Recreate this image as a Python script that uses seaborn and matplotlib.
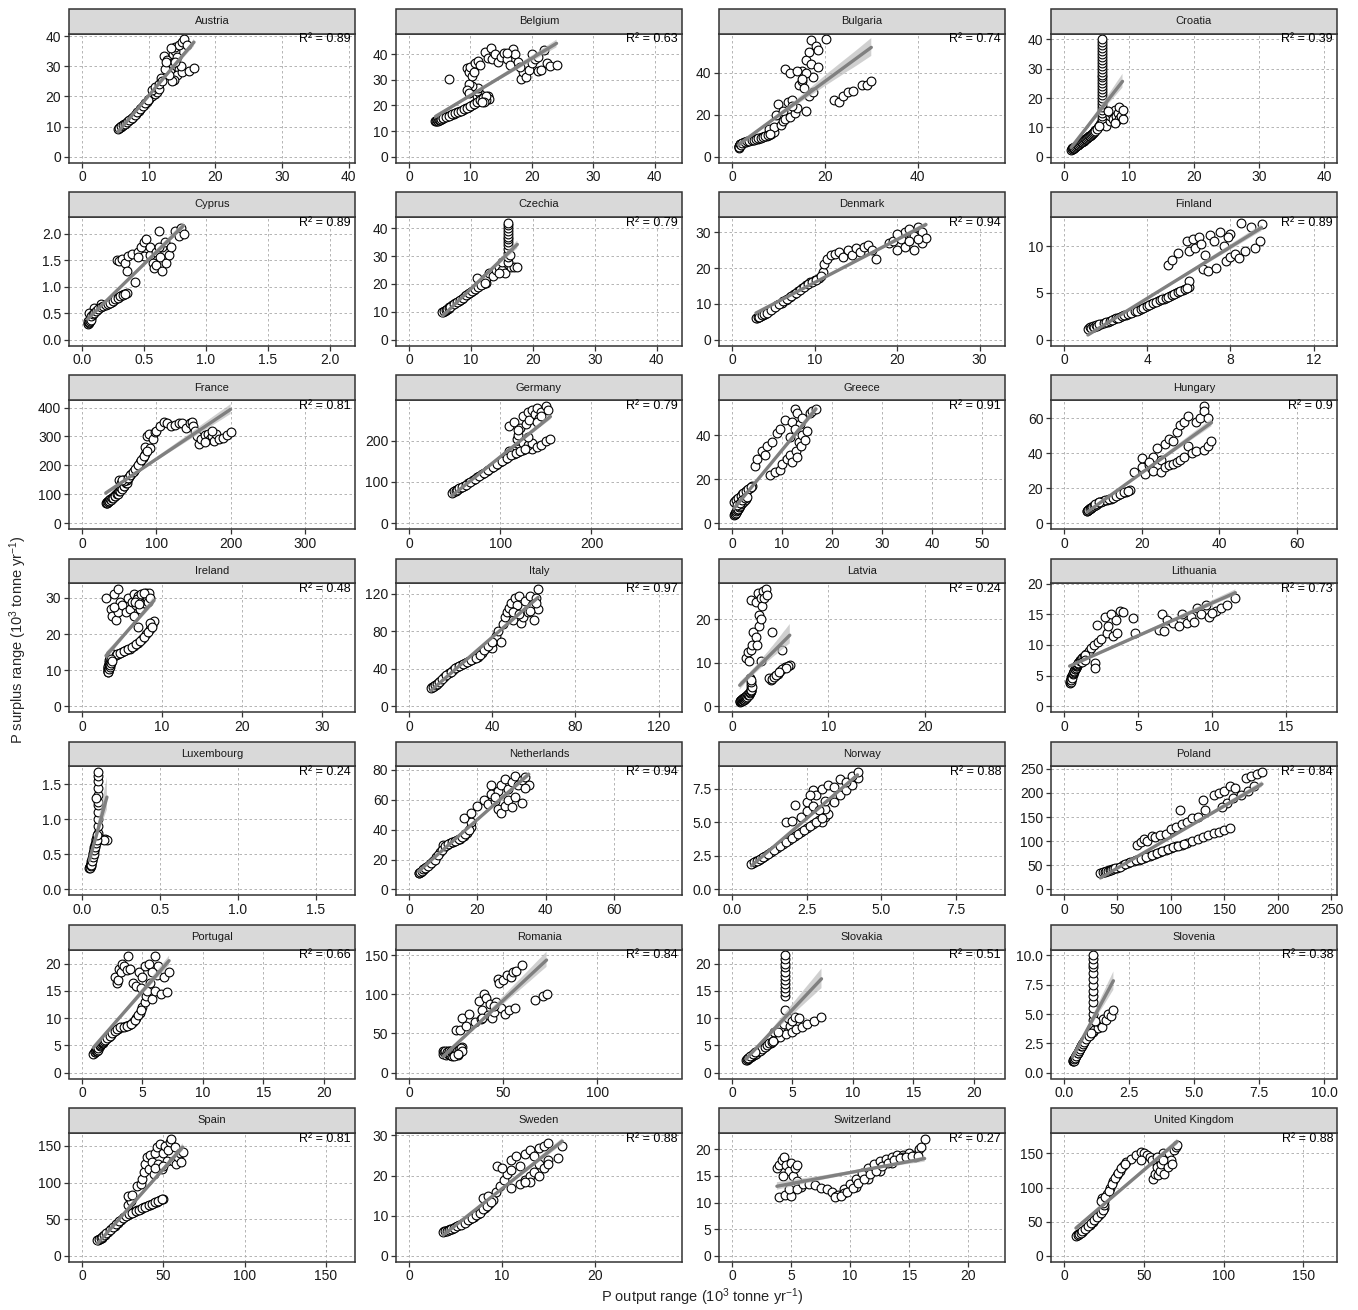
# P surplus vs P output, one panel per country (facet style, free equal axes)
import numpy as np
import pandas as pd
import matplotlib
matplotlib.use('Agg')
import matplotlib.pyplot as plt
from matplotlib.patches import Rectangle
from matplotlib.collections import PolyCollection
import seaborn as sns

countries = ['Austria', 'Belgium', 'Bulgaria', 'Croatia',
             'Cyprus', 'Czechia', 'Denmark', 'Finland',
             'France', 'Germany', 'Greece', 'Hungary',
             'Ireland', 'Italy', 'Latvia', 'Lithuania',
             'Luxembourg', 'Netherlands', 'Norway', 'Poland',
             'Portugal', 'Romania', 'Slovakia', 'Slovenia',
             'Spain', 'Sweden', 'Switzerland', 'United Kingdom']
r2_labels = ['0.89', '0.63', '0.74', '0.39', '0.89', '0.79', '0.94', '0.89',
             '0.81', '0.79', '0.91', '0.9', '0.48', '0.97', '0.24', '0.73',
             '0.24', '0.94', '0.88', '0.84', '0.66', '0.84', '0.51', '0.38',
             '0.81', '0.88', '0.27', '0.88']
x_steps = [10, 10, 20, 10, 0.5, 10, 10, 4, 100, 100, 10, 20, 10, 40, 10, 5,
           0.5, 20, 2.5, 50, 5, 50, 5, 2.5, 50, 10, 5, 50]
y_steps = [10, 10, 20, 10, 0.5, 10, 10, 5, 100, 100, 20, 20, 10, 40, 10, 5,
           0.5, 20, 2.5, 50, 5, 50, 5, 2.5, 50, 10, 5, 50]

# (P output, P surplus), 10^3 tonne/yr
austria = [(5.5, 9.5), (5.7, 9.8), (5.8, 10), (6.0, 10.3), (6.1, 10.5), (6.3, 10.8), (6.5, 11), (6.9, 11.8),
           (7.3, 12.5), (7.7, 13.3), (8.1, 14.2), (8.5, 15.2), (8.9, 16.2), (9.3, 17.2), (9.7, 18.3),
           (10.1, 19.2), (10.5, 20), (10.9, 20.8), (11.3, 21.5), (10.5, 22), (11, 23), (11.5, 22.5),
           (11.5, 24), (11.8, 26), (12, 25), (12.3, 33.5), (12.8, 32), (13, 30), (13.2, 28), (13.5, 31),
           (13.7, 34), (14, 35), (14, 36.5), (14.3, 33), (14.5, 37), (15, 38), (15.3, 39), (15.8, 37),
           (14.6, 29), (14.2, 27), (13.8, 25.5), (13.5, 25), (15, 28), (16, 28.5), (16.8, 29.5),
           (13, 27), (12.5, 29), (12.6, 31.5), (14.8, 30), (14, 31.5), (13.3, 36),
           (5.4, 9.2), (5.6, 9.6), (5.9, 10.1), (6.2, 10.6), (6.4, 10.9), (6.7, 11.4), (7.1, 12.1),
           (7.5, 12.9), (7.9, 13.7), (8.3, 14.7), (8.7, 15.7), (9.1, 16.7), (9.5, 17.7), (9.9, 18.7)]
belgium = [(4.3, 13.8), (4.6, 14.1), (4.8, 14.3), (5.1, 14.6), (5.3, 14.8), (5.8, 15.3), (6.3, 15.8),
           (6.8, 16.3), (7.3, 16.8), (7.8, 17.3), (8.3, 17.8), (8.8, 18.3), (9.3, 18.9), (9.8, 19.5),
           (10.3, 20.2), (10.8, 21), (11.3, 21.8), (11.8, 22.5), (12.3, 23.2), (12.8, 23.5), (13, 22.5),
           (12.5, 22), (11, 23.5), (11.5, 24.5), (11, 25.5), (11.3, 27), (10.2, 27.5), (9.8, 28.5),
           (9.5, 26), (9.8, 25), (6.5, 30.5), (9.5, 34.5), (9.8, 33), (10, 35), (10.3, 31.5), (10.5, 33),
           (10.8, 36.5), (11.2, 37.5), (11.5, 36), (12.3, 40.8), (13.3, 42.3), (12.8, 38.5), (13.5, 38),
           (14, 40), (14.5, 37), (15, 39), (15.5, 40.5), (16, 38), (16.5, 36), (17, 42), (17.3, 40),
           (17.8, 37), (18.3, 30.5), (18.6, 33), (19, 31), (19.5, 34), (20, 36.5), (20.5, 38), (21, 33.5),
           (21.5, 34), (22, 41.5), (22.5, 36.5), (23, 35.5), (24, 35.7), (20, 40), (21, 39), (18, 35),
           (16, 40.5),
           (4.4, 13.9), (4.5, 14.2), (4.7, 14.0), (4.9, 14.5), (5, 14.3), (5.2, 14.9), (5.5, 15.0),
           (5.6, 15.2), (6, 15.5), (6.5, 16), (7, 16.5), (7.5, 17), (8, 17.5), (8.5, 18), (9, 18.6),
           (9.5, 19.2), (10, 19.8), (10.5, 20.6), (11, 21.4), (11.5, 22.2), (12, 22.8), (12.6, 23.8),
           (12.2, 21.5), (11.8, 21.3)]
bulgaria = [(1.5, 4.5), (1.6, 5), (1.7, 5.5), (1.8, 5.9), (2, 6.2), (2.5, 6.8), (3, 7.2), (3.5, 7.5),
            (4, 7.8), (4.5, 8), (5, 8.3), (5.5, 8.6), (6, 9), (6.5, 9.3), (7, 9.7), (7.5, 10), (8, 10.5),
            (8.5, 11), (9, 12), (8, 13), (9, 14), (9.5, 20), (10, 25), (10.5, 15), (11, 17), (11, 22),
            (11.5, 18), (12, 26), (12.5, 19), (13, 27), (13.5, 21), (14, 23), (14.5, 34), (15, 41),
            (15, 36), (15.5, 33), (16, 46), (16, 22), (16.5, 50), (16.5, 29), (17, 55.5), (17, 44),
            (17.5, 31), (17.5, 38), (18, 53), (18.5, 51), (18.5, 43), (11.5, 42), (12.5, 40), (14, 41),
            (16, 40), (20.2, 56), (22, 27), (23, 26), (24, 29), (25, 31), (26, 31.5), (28, 34), (29, 34),
            (30, 36), (13, 24), (15, 37),
            (1.4, 4.2), (1.5, 5), (1.6, 4.6), (1.7, 6), (1.9, 5.5), (2.2, 6.5), (2.7, 7), (3.2, 7.3),
            (3.7, 7.6), (4.2, 7.9), (4.7, 8.1), (5.2, 8.4), (5.7, 8.8), (6.2, 9.1), (6.7, 9.5), (7.2, 9.8),
            (7.7, 10.2), (8.2, 10.8)]
croatia = [(1.2, 2.5), (1.35, 2.75), (1.5, 3), (1.65, 3.25), (1.8, 3.5), (2.1, 4), (2.4, 4.5), (2.7, 5),
           (3, 5.5), (3.3, 6), (3.6, 6.5), (3.9, 7), (4.2, 7.5), (4.5, 8), (4.8, 9), (5.2, 10), (5.5, 11),
           (5.8, 12), (5.8, 13), (5.8, 14), (5.8, 15), (5.8, 16), (5.8, 17), (5.8, 18), (5.8, 19),
           (5.8, 20), (5.8, 21), (5.8, 22), (5.8, 23), (5.8, 24), (5.8, 25), (5.8, 26), (5.8, 27),
           (5.8, 28), (5.8, 29), (5.8, 30), (5.8, 31), (5.8, 32), (5.8, 33), (5.8, 34), (5.8, 35),
           (5.8, 36), (5.8, 37), (5.8, 38), (5.8, 39), (5.8, 40), (6.5, 10.5), (7, 12), (7, 14),
           (7.3, 15), (7.5, 13), (7.8, 16), (8, 12), (8, 14), (8.3, 15), (8.5, 13), (8.5, 17), (8.8, 14),
           (9, 13), (9, 16), (7.8, 11.5), (6.8, 15.5),
           (1.1, 2.3), (1.2, 2.8), (1.3, 2.5), (1.4, 3), (1.45, 2.8), (1.55, 3.2), (1.6, 3), (1.7, 3.4),
           (1.9, 3.6), (2, 3.8), (2.2, 4.1), (2.3, 4.4), (2.5, 4.6), (2.6, 4.9), (2.8, 5.1), (2.9, 5.4),
           (3.1, 5.6), (3.2, 5.9), (3.4, 6.1), (3.5, 6.4), (3.7, 6.6), (3.8, 6.9), (4, 7.2), (4.1, 7.4),
           (4.3, 7.6), (4.4, 7.9), (4.6, 8.3), (4.7, 8.6), (5, 9.5), (5.4, 10.5)]
cyprus = [(0.05, 0.32), (0.055, 0.34), (0.06, 0.36), (0.065, 0.39), (0.07, 0.42), (0.08, 0.47),
          (0.09, 0.5), (0.1, 0.52), (0.12, 0.56), (0.14, 0.6), (0.16, 0.63), (0.18, 0.65), (0.2, 0.67),
          (0.22, 0.69), (0.24, 0.72), (0.26, 0.75), (0.28, 0.78), (0.3, 0.81), (0.32, 0.84), (0.34, 0.86),
          (0.36, 0.88), (0.15, 0.67), (0.1, 0.6), (0.06, 0.5), (0.28, 1.5), (0.3, 1.48), (0.32, 1.52),
          (0.35, 1.45), (0.36, 1.3), (0.37, 1.58), (0.4, 1.62), (0.43, 1.08), (0.45, 1.65), (0.48, 1.75),
          (0.5, 1.85), (0.52, 1.9), (0.5, 1.58), (0.55, 1.6), (0.55, 1.75), (0.57, 1.45), (0.58, 1.35),
          (0.6, 1.4), (0.6, 1.65), (0.62, 2.05), (0.63, 1.55), (0.65, 1.3), (0.65, 1.75), (0.67, 1.85),
          (0.68, 1.45), (0.7, 1.6), (0.72, 1.75), (0.75, 2.05), (0.78, 1.95), (0.8, 2.1), (0.82, 2.0),
          (0.62, 1.75), (0.45, 1.55),
          (0.045, 0.3), (0.05, 0.35), (0.055, 0.31), (0.06, 0.33), (0.065, 0.36), (0.07, 0.38),
          (0.075, 0.44), (0.085, 0.49), (0.095, 0.51), (0.11, 0.54), (0.13, 0.58), (0.15, 0.61),
          (0.17, 0.64), (0.19, 0.66), (0.21, 0.68), (0.23, 0.7), (0.25, 0.73), (0.27, 0.76), (0.29, 0.79),
          (0.31, 0.82), (0.33, 0.85), (0.35, 0.87)]
czechia = [(5.5, 10), (5.75, 10.4), (6, 10.8), (6.25, 11.2), (6.5, 11.6), (7, 12.4), (7.5, 13.2), (8, 14),
           (8.5, 14.8), (9, 15.6), (9.5, 16.4), (10, 17.2), (10.5, 18), (11, 18.8), (11.5, 19.5),
           (12, 20), (12.5, 20.5), (11, 22), (12.5, 22), (13, 24), (13.5, 23), (14, 25), (14.5, 26),
           (15, 25), (15.5, 24), (16, 27), (16.5, 26), (17, 26), (17.5, 26), (14.5, 24), (15, 28),
           (16, 28), (16, 29.5), (16, 31), (16, 32.5), (16, 34), (16, 35), (16, 36), (16, 37), (16, 38),
           (16, 39), (16, 40), (16, 41), (16, 42), (16.3, 30.5),
           (5.4, 9.8), (5.6, 10.2), (5.9, 10.6), (6.1, 11), (6.4, 11.4), (6.7, 11.9), (7.2, 12.7),
           (7.7, 13.5), (8.2, 14.3), (8.7, 15.1), (9.2, 15.9), (9.7, 16.7), (10.2, 17.5), (10.7, 18.3),
           (11.2, 19.1), (11.7, 19.7), (12.2, 20.2)]
denmark = [(3, 6.2), (3.25, 6.45), (3.5, 6.7), (3.75, 7), (4, 7.3), (4.5, 8), (5, 8.8), (5.5, 9.6),
           (6, 10.4), (6.5, 11.2), (7, 12), (7.5, 12.8), (8, 13.6), (8.5, 14.4), (9, 15.2), (9.5, 16),
           (10, 16.6), (10.5, 17.2), (11, 19), (11.2, 21), (11.5, 22.5), (12, 23.5), (12.5, 24),
           (13, 24.5), (13.5, 23), (14, 25), (14.5, 23.5), (15, 25.5), (15.5, 24.5), (16, 26),
           (16.5, 26.5), (17, 25), (17.5, 22.5), (19, 27), (19.5, 27.5), (20, 25), (20.5, 28), (21, 30),
           (21, 26), (21.5, 31), (22, 29), (22, 25), (22.5, 31.5), (23, 30), (23, 27), (23.5, 28.5),
           (20, 29.5), (22.5, 28), (21.5, 27.5),
           (2.9, 6), (3.1, 6.3), (3.3, 6.5), (3.6, 6.8), (3.9, 7.2), (4.2, 7.6), (4.7, 8.3), (5.2, 9.1),
           (5.7, 9.9), (6.2, 10.7), (6.7, 11.5), (7.2, 12.3), (7.7, 13.1), (8.2, 13.9), (8.7, 14.7),
           (9.2, 15.5), (9.7, 16.2), (10.2, 16.8), (10.8, 17.8)]
finland = [(1.2, 1.3), (1.35, 1.4), (1.5, 1.5), (1.65, 1.6), (1.8, 1.7), (2.1, 1.95), (2.4, 2.2),
           (2.7, 2.45), (3, 2.7), (3.3, 2.95), (3.6, 3.2), (3.9, 3.5), (4.2, 3.8), (4.5, 4.1), (4.8, 4.4),
           (5.1, 4.7), (5.4, 5), (5.7, 5.3), (6, 5.6), (6, 6.3), (5, 8), (5.2, 8.5), (5.5, 9.3),
           (5.9, 10.5), (6, 9.5), (6.2, 10.8), (6.3, 9.8), (6.5, 11), (6.6, 10.2), (6.8, 9), (6.7, 7.5),
           (6.9, 7.3), (7, 11.2), (7.2, 10.5), (7.3, 7.7), (7.5, 11.5), (7.7, 10), (7.8, 8.4), (8, 11.3),
           (8, 8.8), (8.2, 9.1), (8.5, 12.5), (8.7, 9.5), (9, 12), (9.2, 9.8), (9.5, 12.3), (9.4, 10.5),
           (8.4, 8.7), (7.9, 11),
           (1.15, 1.2), (1.25, 1.35), (1.3, 1.3), (1.4, 1.45), (1.45, 1.4), (1.55, 1.55), (1.6, 1.5),
           (1.7, 1.65), (1.9, 1.8), (2, 1.85), (2.2, 2.05), (2.3, 2.1), (2.5, 2.3), (2.6, 2.35),
           (2.8, 2.55), (2.9, 2.6), (3.1, 2.8), (3.2, 2.85), (3.4, 3.05), (3.5, 3.1), (3.7, 3.3),
           (3.8, 3.4), (4, 3.6), (4.1, 3.7), (4.3, 3.9), (4.4, 4), (4.6, 4.2), (4.7, 4.3), (4.9, 4.5),
           (5, 4.6), (5.2, 4.8), (5.3, 4.9), (5.5, 5.1), (5.6, 5.2), (5.8, 5.4), (5.9, 5.5)]
france = [(33, 70), (34, 72), (35, 75), (36, 78), (37, 80), (40, 86), (43, 92), (46, 100), (49, 108),
          (52, 118), (55, 128), (58, 138), (60, 145), (50, 150), (52, 140), (55, 150), (63, 160),
          (66, 170), (70, 182), (74, 195), (78, 210), (82, 225), (85, 240), (88, 255), (85, 265),
          (88, 300), (90, 310), (92, 260), (95, 290), (98, 315), (100, 320), (105, 335), (110, 350),
          (115, 345), (120, 335), (125, 340), (130, 345), (135, 345), (140, 330), (145, 345), (148, 350),
          (150, 335), (152, 320), (155, 300), (158, 275), (160, 290), (165, 305), (170, 310), (172, 290),
          (175, 300), (178, 285), (180, 310), (185, 290), (190, 295), (195, 305), (200, 315), (165, 280),
          (175, 320),
          (32, 68), (33, 73), (34, 70), (35, 72), (36, 75), (37, 77), (38, 82), (39, 80), (41, 88),
          (42, 86), (44, 94), (45, 92), (47, 102), (48, 100), (50, 112), (51, 110), (53, 120), (54, 118),
          (56, 130), (57, 128), (59, 140), (60, 138), (61, 150), (58, 148), (56, 145), (54, 150),
          (62, 155), (64, 165), (68, 176), (72, 188), (76, 202), (80, 218), (84, 232), (87, 248)]
germany = [(48, 76), (50, 78), (52, 80), (54, 82), (56, 85), (60, 90), (65, 97), (70, 104), (75, 112),
           (80, 119), (85, 126), (90, 133), (95, 141), (100, 148), (105, 155), (110, 162), (115, 168),
           (120, 173), (125, 178), (130, 183), (135, 180), (120, 180), (115, 175), (110, 175), (110, 235),
           (115, 245), (118, 205), (120, 215), (122, 230), (125, 260), (128, 240), (130, 270), (132, 250),
           (135, 275), (138, 265), (140, 280), (142, 255), (145, 270), (150, 285), (152, 275), (125, 195),
           (130, 190), (135, 195), (140, 185), (145, 190), (150, 200), (155, 205), (130, 210), (120, 225),
           (140, 245), (145, 260),
           (47, 74), (49, 77), (51, 79), (53, 81), (55, 84), (58, 87), (62, 93), (67, 100), (72, 108),
           (77, 115), (82, 122), (87, 129), (92, 136), (97, 144), (102, 151), (107, 158), (112, 165),
           (117, 170), (122, 175), (127, 180)]
greece = [(0.5, 4), (0.65, 4.5), (0.8, 5), (0.9, 5.5), (1, 6), (1.3, 7), (1.6, 8), (2, 9), (2.4, 10),
          (2.8, 11), (0.5, 10), (1, 11), (1.5, 12), (2, 13), (2.5, 14), (3, 15), (3.5, 16), (4, 17),
          (4.5, 26), (5, 29), (6, 33), (6.5, 31), (7, 35), (7.5, 22), (8, 37), (8.5, 23), (9, 41),
          (9.5, 24), (9.5, 43), (10, 27), (10.5, 47), (11, 29), (11.5, 31), (12, 28), (12, 46),
          (12.5, 52), (12.8, 33), (13, 50), (13.3, 37), (13.5, 45), (13.8, 35), (14, 40), (14, 48),
          (14.5, 38), (15, 42), (15.5, 50), (16, 51), (16.8, 52), (13, 30), (11.5, 39), (12.5, 43),
          (0.45, 3.8), (0.55, 4.3), (0.6, 4.1), (0.7, 4.8), (0.75, 4.6), (0.85, 5.3), (0.95, 5.8),
          (1.1, 6.3), (1.2, 6.6), (1.4, 7.3), (1.5, 7.6), (1.8, 8.5), (2.2, 9.5), (2.6, 10.5),
          (0.4, 9.5), (0.7, 10.5), (1.2, 11.5), (1.7, 12.5), (2.2, 13.5), (2.7, 14.5), (3.2, 15.5),
          (3.7, 16.5), (1, 8), (1.5, 9), (2, 10.5), (2.5, 11.5), (3, 12)]
hungary = [(6, 7), (6.25, 7.5), (6.5, 8), (6.75, 8.4), (7, 8.8), (7.5, 9.5), (8, 10.2), (8.5, 11),
           (9, 11.8), (10, 12.5), (11, 13.3), (12, 14), (13, 15), (14, 16), (15, 17), (16, 18), (17, 19),
           (18, 29), (20, 32), (20, 37), (21, 28), (22, 33), (23, 38), (23, 30), (24, 43), (25, 29),
           (25, 36), (26, 45), (26, 32), (27, 48), (27, 33), (28, 34), (29, 52), (29, 35), (30, 56),
           (30, 36), (31, 58), (31, 38), (32, 61), (32, 44), (33, 40), (34, 58), (34, 41), (35, 60),
           (36, 67), (36, 42), (36, 64), (37, 60), (37, 44), (38, 47), (28, 47), (22, 35),
           (5.9, 6.8), (6.1, 7.2), (6.3, 7.6), (6.6, 8.1), (6.9, 8.6), (7.2, 9), (7.7, 9.8), (8.2, 10.5),
           (8.7, 11.3), (9.5, 12), (10.5, 12.9), (11.5, 13.6), (12.5, 14.5), (13.5, 15.5), (14.5, 16.5),
           (15.5, 17.5), (16.5, 18.5), (8, 11), (9, 12.2)]
ireland = [(3.3, 9.5), (3.3, 10), (3.3, 10.5), (3.35, 11), (3.4, 11.5), (3.5, 12.5), (3.6, 13.5),
           (4, 14), (4.5, 14.5), (5, 15), (5.5, 15.5), (6, 16), (6.5, 16.8), (7, 17.5), (7.5, 18.5),
           (8, 20), (8.5, 21.5), (8.8, 22.5), (9, 23.5), (8.5, 23), (3, 30), (3.6, 27), (3.8, 25),
           (4, 31), (4.2, 24), (4.5, 32.5), (4.7, 29), (4.5, 26), (5, 28), (5.5, 26), (5.8, 30), (6, 27),
           (6.2, 29), (6.5, 31), (6.8, 28), (7, 22), (7, 30.5), (7.3, 27), (7.5, 29), (8, 31.5),
           (8.3, 30.5), (4, 27.5), (6.5, 25),
           (3.2, 9.8), (3.25, 10.2), (3.3, 10.8), (3.3, 11.2), (3.35, 11.8), (3.4, 12.2), (3.4, 12.8),
           (3.45, 13.2), (3.5, 13.8), (3.55, 14.2), (3.6, 14.5), (3.7, 13.8), (3.8, 14.2), (3.9, 14.4),
           (4.2, 14.2), (4.4, 14.6), (4.7, 14.8), (3.25, 9.6), (3.35, 10.3), (3.45, 11), (3.5, 11.5),
           (3.6, 12), (3.6, 13), (3.7, 12.5), (5.2, 15.3), (5.8, 15.8), (6.2, 16.3), (6.8, 17.2),
           (7.2, 18), (7.8, 19.2), (8.2, 20.5), (8.7, 22),
           (7.2, 29.5), (7.6, 30.2), (7.8, 28.5), (8.1, 30), (8.4, 31.5), (6.9, 29.8), (7.4, 31),
           (8.2, 29), (6.6, 29), (7.1, 28.3), (7.7, 31.5), (8.5, 30)]
italy = [(11, 20), (12, 21.5), (13, 23), (14, 25), (15, 27), (17, 31), (19, 35), (21, 39), (23, 42),
         (25, 44), (27, 46), (29, 48), (31, 50), (33, 53), (35, 57), (37, 62), (39, 66), (41, 70),
         (40, 62), (42, 75), (43, 80), (44, 68), (45, 88), (46, 95), (47, 100), (48, 105), (49, 110),
         (50, 92), (51, 115), (52, 108), (53, 118), (54, 89), (55, 95), (56, 112), (57, 100), (58, 118),
         (59, 108), (60, 92), (61, 115), (62, 104), (62, 125), (61, 110), (58, 102), (50, 100), (53, 98),
         (10.5, 19.5), (11.5, 20.8), (12.5, 22.2), (13.5, 24), (14.5, 26), (16, 29), (18, 33), (20, 37),
         (22, 40.5), (24, 43), (26, 45), (28, 47), (30, 49), (32, 51.5), (34, 55), (36, 59.5), (38, 64),
         (40, 68)]
latvia = [(0.8, 1.2), (0.9, 1.35), (1, 1.5), (1.1, 1.65), (1.2, 1.8), (1.4, 2.2), (1.6, 2.6), (1.8, 3),
          (2, 3.5), (2, 4.2), (2, 5), (1.9, 6.5), (1.5, 11), (1.7, 12.5), (1.8, 10.5), (2, 13),
          (2.1, 14), (2.2, 17), (2, 24.5), (2.5, 16), (2.5, 24), (2.6, 14), (2.7, 26), (2.8, 21),
          (2.8, 18.5), (3, 25), (3, 20), (3.1, 23), (3.2, 26.5), (3.3, 25), (3.5, 27), (3.6, 25.5),
          (3, 10.5), (4, 6), (4.2, 17), (4.5, 7), (5, 8), (5.2, 13), (5.5, 9), (6, 9.5), (3.8, 6.5),
          (4.8, 7.5),
          (0.8, 1.0), (0.85, 1.3), (0.9, 1.1), (0.95, 1.5), (1.0, 1.2), (1.05, 1.6), (1.1, 1.4),
          (1.15, 1.8), (1.2, 1.5), (1.25, 2), (1.3, 1.7), (1.35, 2.1), (1.45, 2.0), (1.5, 2.4),
          (1.55, 2.2), (1.65, 2.5), (1.7, 2.8), (1.75, 2.6), (1.85, 3.1), (1.9, 3.3), (1.95, 3.6),
          (2.0, 3.8), (2.05, 4.5), (2.0, 5.5), (1.95, 6),
          (4.2, 6.3), (4.4, 6.8), (4.6, 7.2), (5.2, 8.5), (5.8, 9.2), (5.6, 8.8), (4.9, 7.8)]
lithuania = [(0.4, 3.9), (0.45, 4.3), (0.5, 4.8), (0.55, 5), (0.6, 5.3), (0.7, 5.8), (0.8, 6.3),
             (0.9, 6.8), (1, 7.2), (1.1, 7.5), (1.2, 7.8), (1.3, 8), (1.4, 8.2), (1.5, 8.5), (1.7, 9),
             (1.8, 9.5), (2, 10), (2.1, 7), (2.1, 6.3), (2.2, 13.2), (2.3, 10.5), (2.5, 11), (2.8, 14.5),
             (2.9, 12), (3, 13), (3.2, 15), (3.3, 11.5), (3.5, 14), (3.6, 12), (3.8, 15.5), (4, 15.3),
             (4.7, 14.3), (4.8, 12), (6.4, 12.5), (6.6, 15.1), (6.8, 12.2), (7, 14), (7.4, 13.5),
             (7.8, 13), (8, 15), (8.3, 13.5), (8.6, 14.5), (8.8, 13.8), (9, 16), (9.3, 15), (9.6, 16.5),
             (9.8, 14.5), (10.3, 15.5), (10.6, 16), (11, 16.5), (11.6, 17.6), (10, 15.2),
             (0.38, 3.8), (0.42, 4.1), (0.44, 4), (0.47, 4.5), (0.5, 4.3), (0.52, 4.9), (0.55, 4.6),
             (0.58, 5.2), (0.62, 5.4), (0.65, 5.6), (0.68, 5.7), (0.72, 6), (0.75, 6.1), (0.78, 6.2),
             (0.82, 6.5), (0.85, 6.6), (0.88, 6.7), (0.92, 6.9), (0.95, 7), (0.98, 7.1), (1.05, 7.3),
             (1.15, 7.6), (1.25, 7.9), (1.35, 8.1), (1.45, 8.3), (1.2, 7.2), (1.4, 7.6)]
luxembourg = [(0.05, 0.32), (0.052, 0.34), (0.055, 0.36), (0.06, 0.4), (0.065, 0.45), (0.07, 0.5),
              (0.075, 0.55), (0.08, 0.6), (0.085, 0.65), (0.09, 0.7), (0.095, 0.75), (0.1, 0.8),
              (0.1, 0.9), (0.1, 1.0), (0.1, 1.1), (0.1, 1.2), (0.1, 1.25), (0.1, 1.35), (0.1, 1.45),
              (0.1, 1.55), (0.1, 1.62), (0.1, 1.67), (0.11, 0.72), (0.13, 0.72), (0.15, 0.72),
              (0.16, 0.7), (0.14, 0.7), (0.09, 1.3),
              (0.048, 0.3), (0.05, 0.34), (0.052, 0.31), (0.055, 0.33), (0.058, 0.38), (0.06, 0.35),
              (0.062, 0.42), (0.065, 0.4), (0.068, 0.48), (0.07, 0.46), (0.072, 0.52), (0.075, 0.5),
              (0.078, 0.58), (0.08, 0.56), (0.082, 0.62), (0.085, 0.6), (0.088, 0.68), (0.09, 0.66),
              (0.092, 0.72), (0.095, 0.7), (0.098, 0.78)]
netherlands = [(3, 11), (3.5, 12), (4, 13), (4.5, 14), (5, 15), (6, 17), (7, 19), (8, 21.5), (9, 25),
               (10, 28), (11, 30), (12, 31), (13, 32), (14, 33), (15, 34), (16, 36), (17, 38), (18, 42),
               (18, 45), (10, 30), (16, 48), (18, 51), (20, 56), (22, 60), (23, 57), (24, 70), (24, 64),
               (25, 59), (26, 54), (26, 66), (27, 51), (27, 70), (28, 56), (28, 74), (29, 60), (29, 67),
               (30, 72), (30, 55), (31, 76), (31, 62), (32, 70), (33, 58), (33, 73), (34, 75), (35, 70),
               (34, 68), (25, 62),
               (2.8, 10.8), (3.2, 11.5), (3.8, 12.5), (4.2, 13.5), (4.8, 14.5), (5.5, 16), (6.5, 18),
               (7.5, 20), (8.5, 23), (9.5, 26.5), (10.5, 29), (11.5, 30.5), (12.5, 31.5), (13.5, 32.5),
               (14.5, 33.5), (15.5, 35), (16.5, 37), (17.5, 40)]
norway = [(0.7, 2), (0.8, 2.1), (0.9, 2.2), (1, 2.35), (1.1, 2.5), (1.3, 2.8), (1.5, 3.1), (1.7, 3.4),
          (1.9, 3.7), (2.1, 4), (2.3, 4.3), (2.5, 4.6), (2.7, 4.9), (2.9, 5.2), (3.1, 5.4), (3.2, 5.6),
          (3.1, 6), (3.4, 6.5), (3.6, 7), (3.8, 7.4), (4, 7.8), (4.2, 8.3), (1.8, 5), (2, 5.1),
          (2.1, 6.3), (2.3, 5.4), (2.5, 6.5), (2.5, 5.8), (2.7, 7.4), (2.7, 6.2), (2.8, 7), (2.9, 5.9),
          (3, 7.5), (3.1, 6.6), (3.2, 7.8), (3.4, 7.6), (3.6, 8.2), (3.8, 8), (4, 8.4), (4.2, 8.7),
          (2.6, 7), (3, 5),
          (0.65, 1.9), (0.75, 2.05), (0.85, 2.15), (0.95, 2.3), (1.05, 2.4), (1.2, 2.65), (1.4, 2.95),
          (1.6, 3.25), (1.8, 3.55), (2, 3.85), (2.2, 4.15), (2.4, 4.45), (2.6, 4.75), (2.8, 5.05),
          (3, 5.3)]
poland = [(35, 35), (37, 36), (40, 38), (42, 40), (45, 42), (50, 45), (55, 50), (60, 54), (65, 58),
          (70, 62), (75, 66), (80, 70), (85, 74), (90, 78), (95, 82), (100, 86), (105, 90), (110, 93),
          (115, 96), (120, 100), (125, 105), (130, 108), (135, 112), (140, 116), (145, 120), (150, 124),
          (155, 128), (68, 92), (72, 98), (75, 105), (78, 100), (82, 110), (85, 108), (90, 112),
          (95, 115), (100, 125), (105, 130), (108, 165), (110, 135), (115, 140), (120, 148), (125, 150),
          (130, 185), (132, 165), (140, 195), (145, 200), (150, 205), (152, 180), (155, 215), (158, 190),
          (160, 210), (165, 195), (170, 230), (172, 205), (175, 235), (178, 215), (180, 240), (185, 243),
          (148, 170),
          (34, 34), (36, 36), (38, 37), (39, 38), (41, 39), (43, 40), (44, 41), (46, 43), (48, 44),
          (52, 47), (57, 52), (62, 56), (67, 60), (72, 64), (77, 68), (82, 72), (87, 76), (92, 80),
          (97, 84), (102, 88), (107, 91), (112, 94)]
portugal = [(1, 3.6), (1.1, 3.9), (1.2, 4.2), (1.3, 4.5), (1.4, 4.8), (1.6, 5.3), (1.8, 5.8), (2, 6.2),
            (2.2, 6.6), (2.4, 7), (2.6, 7.4), (2.8, 7.8), (3, 8.1), (3.3, 8.4), (3.6, 8.5), (3.9, 8.8),
            (4.2, 9.3), (4.5, 10), (4.8, 11), (5, 12), (5.2, 13), (2.7, 17.5), (2.9, 16.5), (3, 17),
            (3.1, 19), (3.2, 18.5), (3.3, 20), (3.5, 19.5), (3.7, 18.8), (3.8, 21.5), (4, 19),
            (4.2, 16.5), (4.5, 16), (4.7, 18.5), (4.9, 15.5), (5, 17.5), (5.2, 19.5), (5.3, 14),
            (5.4, 15), (5.5, 20), (5.6, 16.5), (5.8, 13.5), (6, 21.5), (6, 15), (6.2, 18), (6.3, 19.5),
            (6.5, 14.5), (6.8, 17.5), (7, 14.8), (7.2, 18.5), (5.8, 18.5),
            (0.95, 3.5), (1.05, 3.8), (1.1, 3.7), (1.15, 4), (1.2, 3.9), (1.25, 4.3), (1.3, 4.2),
            (1.35, 4.6), (1.45, 4.9), (1.5, 5), (1.55, 5.2), (1.65, 5.4), (1.7, 5.5), (1.75, 5.7),
            (1.85, 5.9), (1.9, 6), (2.1, 6.4), (2.3, 6.8), (2.5, 7.2), (2.7, 7.6), (2.9, 8), (3.15, 8.3),
            (3.45, 8.45), (3.75, 8.6), (4.05, 9), (4.35, 9.6), (4.65, 10.5), (4.9, 11.5)]
romania = [(18, 27), (19, 25), (20, 28), (21, 24), (22, 27), (23, 23), (24, 26), (25, 29), (26, 25),
           (27, 30), (28, 33), (22, 22), (25, 22), (25, 55), (27, 55), (28, 70), (30, 60), (32, 75),
           (35, 65), (37, 92), (38, 68), (39, 80), (40, 100), (41, 95), (42, 73), (43, 88), (44, 70),
           (45, 78), (46, 90), (47, 120), (48, 115), (49, 82), (50, 118), (51, 75), (52, 125), (53, 80),
           (54, 122), (55, 128), (56, 82), (57, 130), (60, 138), (67, 93), (71, 98), (73, 101), (45, 85),
           (39, 70),
           (18, 24), (18.5, 26), (19, 28), (19.5, 23), (20, 26), (20.5, 24), (21, 27), (21.5, 22),
           (22, 25), (22.5, 28), (23, 21), (23.5, 25), (24, 23), (24.5, 28), (25, 25), (25.5, 27),
           (26, 22), (26.5, 29), (27, 26), (27.5, 31), (28, 28), (24, 21), (26, 24)]
slovakia = [(1.2, 2.4), (1.3, 2.55), (1.4, 2.7), (1.5, 2.85), (1.6, 3), (1.8, 3.3), (2, 3.6), (2.2, 3.9),
            (2.4, 4.2), (2.6, 4.5), (2.8, 4.9), (3, 5.2), (3.2, 5.5), (3.5, 6), (4.4, 11.5), (4.4, 14),
            (4.4, 14.8), (4.4, 15.5), (4.4, 16.3), (4.4, 17), (4.4, 17.8), (4.4, 18.5), (4.4, 19.3),
            (4.4, 20), (4.4, 20.8), (4.4, 21.5), (3.5, 7.5), (4, 6.5), (4, 8), (4.3, 9), (4.5, 7),
            (4.6, 10), (4.8, 8.5), (5, 9.5), (5, 7.5), (5.2, 10.2), (5.3, 8), (5.5, 10), (5.8, 8.3),
            (6.2, 9), (6.8, 9.5), (7.4, 10.2), (3.8, 7.5),
            (1.15, 2.3), (1.25, 2.5), (1.35, 2.6), (1.45, 2.8), (1.55, 2.9), (1.65, 3.1), (1.7, 3.15),
            (1.75, 3.2), (1.85, 3.4), (1.9, 3.45), (1.95, 3.5), (2.1, 3.75), (2.3, 4.05), (2.5, 4.35),
            (2.7, 4.7), (2.9, 5.05), (3.1, 5.35), (3.3, 5.7), (3.4, 5.8), (1.3, 2.7), (1.5, 3.1),
            (1.7, 3.4), (1.9, 3.7)]
slovenia = [(0.35, 1), (0.38, 1.1), (0.4, 1.2), (0.45, 1.4), (0.5, 1.6), (0.55, 1.8), (0.6, 2),
            (0.65, 2.2), (0.7, 2.4), (0.75, 2.6), (0.8, 2.8), (0.9, 3), (1, 3.2), (1.1, 3.5), (1.1, 4),
            (1.1, 4.5), (1.1, 5), (1.1, 5.5), (1.1, 6), (1.1, 6.5), (1.1, 7), (1.1, 7.5), (1.1, 8),
            (1.1, 8.5), (1.1, 9), (1.1, 9.3), (1.1, 9.7), (1.1, 10), (1.15, 3.6), (1.3, 3.8),
            (1.4, 4.2), (1.45, 3.9), (1.5, 4.6), (1.6, 4.5), (1.7, 5), (1.8, 4.8), (1.9, 5.3), (1.2, 4.4),
            (0.33, 0.95), (0.36, 1.05), (0.37, 0.98), (0.39, 1.15), (0.42, 1.3), (0.43, 1.25),
            (0.47, 1.5), (0.48, 1.45), (0.52, 1.7), (0.53, 1.65), (0.57, 1.9), (0.58, 1.85), (0.62, 2.1),
            (0.63, 2.05), (0.67, 2.3), (0.68, 2.25), (0.72, 2.5), (0.73, 2.45), (0.77, 2.7), (0.78, 2.65),
            (0.85, 2.9), (0.95, 3.1), (1.05, 3.35)]
spain = [(10, 22), (11, 23.5), (12, 25), (13, 27), (14, 29), (16, 33), (18, 37), (20, 41), (22, 45),
         (24, 49), (26, 53), (28, 56), (30, 58), (32, 60), (34, 62), (36, 64), (38, 66), (40, 68),
         (42, 70), (44, 72), (46, 74), (48, 76), (50, 78), (28, 70), (29, 80), (30, 75), (28, 82),
         (31, 83), (34, 95), (36, 98), (37, 105), (38, 115), (39, 125), (40, 135), (41, 118), (42, 138),
         (43, 128), (44, 112), (45, 140), (46, 148), (47, 125), (48, 152), (49, 118), (50, 140),
         (51, 150), (52, 130), (53, 145), (54, 155), (55, 160), (56, 130), (57, 148), (58, 125),
         (59, 135), (60, 140), (61, 128), (62, 142), (45, 120), (50, 122),
         (9.5, 21), (10.5, 22.5), (11.5, 24), (12.5, 26), (13.5, 28), (15, 31), (17, 35), (19, 39),
         (21, 43), (23, 47), (25, 51), (27, 54.5), (29, 57), (31, 59), (33, 61), (35, 63), (37, 65),
         (39, 67), (41, 69), (43, 71), (45, 73), (47, 75), (49, 77)]
sweden = [(3.8, 6.1), (4, 6.25), (4.2, 6.4), (4.4, 6.6), (4.6, 6.8), (5, 7.2), (5.4, 7.6), (5.8, 8.1),
          (6.2, 8.6), (6.6, 9.2), (7, 9.8), (7.4, 10.5), (7.8, 11.2), (8.2, 12), (8.6, 13), (9, 14),
          (8, 14.5), (8.5, 15), (9.4, 16), (9.8, 17.5), (10.2, 19), (10.6, 20.5), (11, 21.5),
          (9.5, 22.5), (10, 22), (11, 17), (11, 24), (11.5, 25), (12, 22.5), (12, 18), (12.5, 25.5),
          (12.5, 19), (13, 26.5), (13, 20), (13.5, 25), (13.5, 21), (14, 27), (14, 23), (14.5, 27.5),
          (14.5, 22), (15, 28), (15, 24), (13, 18.5), (12.5, 18.3), (16, 24.5), (16.5, 27.5), (14, 20),
          (15, 23),
          (3.7, 6), (3.9, 6.2), (4.1, 6.3), (4.3, 6.5), (4.5, 6.7), (4.8, 7), (5.2, 7.4), (5.6, 7.8),
          (6, 8.3), (6.4, 8.9), (6.8, 9.5), (7.2, 10.1), (7.6, 10.8), (8, 11.6), (8.4, 12.5), (8.8, 13.5)]
switzerland = [(3.8, 16.5), (4, 17), (4.2, 18), (4.4, 18.5), (4.6, 17), (4.8, 16), (5, 17.5), (5.2, 15),
               (5.3, 16.5), (5.5, 14), (5.5, 17), (4, 11), (4.5, 11.5), (5, 11.2), (4.8, 12.5), (5.8, 13),
               (5.5, 12.5), (4.3, 15), (6, 13.5), (6.5, 13.5), (7, 13.2), (7.5, 12.8), (8, 12.5),
               (8.5, 12), (8.8, 11.2), (9, 11.5), (9.5, 12.5), (10, 13.5), (10.5, 14.5), (11, 15.5),
               (11.5, 16.5), (12, 17.2), (12.5, 17.8), (13, 18.2), (13.5, 18.6), (14, 19), (14.5, 19),
               (15, 19.2), (15.5, 19), (15.8, 20), (16, 20.5), (16.3, 22), (9.5, 11.8), (10.5, 13),
               (11.5, 14.5), (12.5, 16), (13.5, 17.5), (14.5, 18.5), (15.5, 18.5),
               (8.7, 11), (9.2, 11.3), (9.7, 12), (10.2, 12.8), (10.7, 13.6), (11.2, 14.5), (11.7, 15.3),
               (12.2, 16), (12.7, 16.8), (13.2, 17.4), (13.7, 17.9), (14.2, 18.3), (14.7, 18.6),
               (15.2, 18.7), (15.7, 18.8)]
united_kingdom = [(8, 30), (9, 31.5), (10, 33), (11, 35), (12, 37), (14, 41), (16, 45), (18, 50),
                  (20, 55), (22, 60), (24, 65), (25, 70), (25, 80), (24, 84), (27, 90), (29, 100),
                  (31, 110), (33, 118), (35, 125), (37, 132), (39, 138), (42, 142), (45, 147), (48, 152),
                  (50, 150), (52, 148), (54, 145), (55, 140), (56, 112), (57, 120), (58, 130), (59, 118),
                  (60, 125), (61, 135), (62, 150), (63, 120), (64, 145), (65, 130), (66, 150), (67, 140),
                  (68, 135), (69, 155), (70, 160), (71, 163), (58, 145), (62, 140), (48, 140),
                  (7.5, 29), (8.5, 30.5), (9.5, 32), (10.5, 34), (11.5, 36), (13, 39), (15, 43),
                  (17, 47.5), (19, 52.5), (21, 57.5), (23, 62.5), (24.5, 67), (25, 75), (24.5, 78),
                  (23.5, 80), (26, 86), (28, 95), (30, 105), (32, 114), (34, 122), (36, 128), (38, 135)]

country_points = [austria, belgium, bulgaria, croatia, cyprus, czechia, denmark, finland,
                  france, germany, greece, hungary, ireland, italy, latvia, lithuania,
                  luxembourg, netherlands, norway, poland, portugal, romania, slovakia, slovenia,
                  spain, sweden, switzerland, united_kingdom]

rows = []
for name, pts in zip(countries, country_points):
    for px, py in pts:
        rows.append((name, px, py))
df = pd.DataFrame(rows, columns=['country', 'p_output', 'p_surplus'])

sns.set_style('ticks')
plt.rcParams['font.family'] = ['Liberation Sans', 'DejaVu Sans']
plt.rcParams['mathtext.fontset'] = 'custom'
plt.rcParams['mathtext.rm'] = 'Liberation Sans'
plt.rcParams['mathtext.it'] = 'Liberation Sans:italic'

W, H = 1358, 1310
fig = plt.figure(figsize=(W / 100, H / 100), dpi=100)

col_left = [69, 396, 719, 1051]
pw, ph = 286, 129
strip_h = 24.5
row_step = 183.2
band_ci = 68


def upper_band(x, y, z=1.0):
    # top of the confidence band of a straight-line fit, used to train the y range
    n = len(x)
    b, a = np.polyfit(x, y, 1)
    resid = y - (a + b * x)
    s = np.sqrt(np.sum(resid ** 2) / (n - 2))
    sxx = np.sum((x - x.mean()) ** 2)
    ends = np.array([x.min(), x.max()])
    se = s * np.sqrt(1 / n + (ends - x.mean()) ** 2 / sxx)
    return np.max(a + b * ends + z * se)


def fmt_ticks(step, top):
    ticks = np.arange(0, top + 1e-9, step)
    if float(step).is_integer():
        labels = ['%d' % t for t in ticks]
    else:
        labels = ['%.1f' % t for t in ticks]
    return ticks, labels


for i, name in enumerate(countries):
    r, c = divmod(i, 4)
    top = 9 + row_step * r + strip_h
    ax = fig.add_axes([col_left[c] / W, 1 - (top + ph) / H, pw / W, ph / H])
    d = df[df.country == name]
    x = d.p_output.to_numpy()
    y = d.p_surplus.to_numpy()

    sns.scatterplot(x=x, y=y, ax=ax, s=40, color='white', edgecolor='black',
                    linewidth=0.8, zorder=2, legend=False)
    sns.regplot(x=x, y=y, ax=ax, scatter=False, ci=band_ci, n_boot=300, seed=3,
                color='#808080', line_kws={'lw': 2.4, 'zorder': 4})
    for coll in ax.collections:
        if isinstance(coll, PolyCollection):
            coll.set_facecolor('#b8b8b8')
            coll.set_edgecolor('none')
            coll.set_alpha(0.65)
            coll.set_zorder(3)

    mx = max(x.max(), y.max())
    my = max(mx, upper_band(x, y))
    ax.set_xlim(-0.05 * mx, 1.05 * mx)
    ax.set_ylim(-0.05 * my, 1.05 * my)

    xt, xl = fmt_ticks(x_steps[i], 1.05 * mx)
    yt, yl = fmt_ticks(y_steps[i], 1.05 * my)
    ax.set_xticks(xt, xl)
    ax.set_yticks(yt, yl)
    ax.set_xlabel('')
    ax.set_ylabel('')

    ax.grid(True, color='#a8a8a8', lw=0.6, ls=(0, (3, 3)))
    ax.set_axisbelow(True)
    for sp in ax.spines.values():
        sp.set_visible(True)
        sp.set_color('#333333')
        sp.set_linewidth(1.1)
    ax.tick_params(direction='out', length=3.5, width=0.9, color='#333333',
                   labelsize=10, labelcolor='#1a1a1a', pad=2,
                   bottom=True, left=True, top=False, right=False)

    # grey strip with the country name
    ax.add_patch(Rectangle((0, 1), 1, strip_h / ph, transform=ax.transAxes,
                           facecolor='#d9d9d9', edgecolor='#333333', lw=1.1,
                           clip_on=False, zorder=5))
    ax.text(0.5, 1 + strip_h / ph / 2, name, transform=ax.transAxes,
            ha='center', va='center', fontsize=8, color='#1a1a1a', zorder=6)
    ax.text(1 - 4 / pw, 1.0, 'R² = ' + r2_labels[i], transform=ax.transAxes,
            ha='right', va='top', fontsize=9, color='black', zorder=6)

fig.text(702 / W, 1 - 1297 / H, 'P output range (10$^3$ tonne yr$^{-1}$)',
         ha='center', va='center', fontsize=10.5)
fig.text(18 / W, 1 - 640 / H, 'P surplus range (10$^3$ tonne yr$^{-1}$)',
         ha='center', va='center', rotation=90, fontsize=10.5)

fig.savefig('out.png', dpi=100)
